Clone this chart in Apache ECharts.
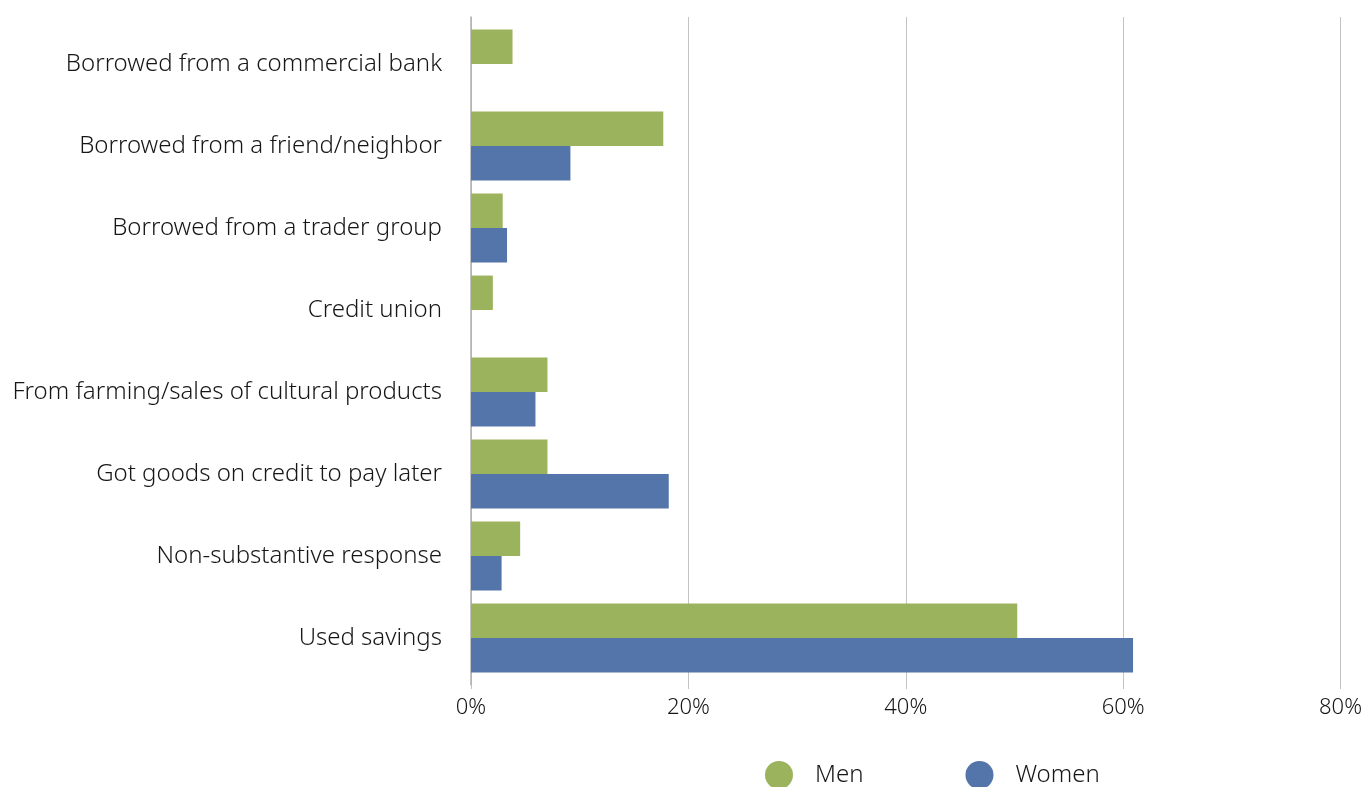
<!DOCTYPE html>
<html>
<head>
<meta charset="utf-8">
<script src="https://cdn.jsdelivr.net/npm/echarts@6/dist/echarts.min.js"></script>
<style>
  html, body { margin: 0; padding: 0; background: #ffffff; }
  #chart { width: 1365px; height: 787px; }
</style>
</head>
<body>
<div id="chart"></div>
<script>
// Sources of funds, share of respondents by gender (%)
const categories = [
  'Borrowed from a commercial bank',
  'Borrowed from a friend/neighbor',
  'Borrowed from a trader group',
  'Credit union',
  'From farming/sales of cultural products',
  'Got goods on credit to pay later',
  'Non-substantive response',
  'Used savings'
];
const menValues = [3.8, 17.6, 2.9, 2.0, 7.0, 7.0, 4.5, 50.0];
const womenValues = [null, 9.1, 3.3, null, 5.9, 18.1, 2.8, 60.6];
const xTicks = [0, 20, 40, 60, 80];

const FONT = '"Noto Sans", "Open Sans", sans-serif';
const TEXT = '#161616';
const GRID = '#c4c4c4';
const LEFT = 471, RIGHT = 20;

const xMin = xTicks[0], xMax = xTicks[xTicks.length - 1], xStep = xTicks[1] - xTicks[0];

const chart = echarts.init(document.getElementById('chart'), null, { renderer: 'canvas' });
chart.setOption({
  animation: false,
  backgroundColor: '#ffffff',
  textStyle: { fontFamily: FONT },
  grid: [
    // bars
    { left: LEFT, right: RIGHT, top: 23, bottom: 108, containLabel: false },
    // frame: gridlines, value labels and the baseline run a little past the bars
    { left: LEFT, right: RIGHT, top: 17, bottom: 102, containLabel: false }
  ],
  legend: {
    data: ['Men', 'Women'],
    left: 765,
    top: 761,
    padding: 0,
    icon: 'circle',
    itemWidth: 28,
    itemHeight: 28,
    itemGap: 102,
    textStyle: { fontFamily: FONT, fontSize: 24, fontWeight: 300, color: TEXT, padding: [0, 0, 0, 17] }
  },
  xAxis: [
    {
      gridIndex: 0,
      type: 'value',
      min: xMin, max: xMax, interval: xStep,
      axisLine: { show: false }, axisTick: { show: false },
      splitLine: { show: false }, axisLabel: { show: false }
    },
    {
      gridIndex: 1,
      type: 'value',
      min: xMin, max: xMax, interval: xStep,
      axisLine: { show: false },
      axisTick: { show: true, length: 4, lineStyle: { color: GRID } },
      splitLine: { show: true, lineStyle: { color: GRID, width: 1 } },
      axisLabel: {
        margin: 12,
        fontFamily: FONT,
        fontSize: 22,
        fontWeight: 300,
        color: TEXT,
        formatter: v => v + '%'
      }
    }
  ],
  yAxis: [
    {
      gridIndex: 0,
      type: 'category',
      data: categories,
      inverse: true,
      axisLine: { show: false },
      axisTick: { show: false },
      axisLabel: {
        margin: 29,
        fontFamily: FONT,
        fontSize: 24,
        fontWeight: 300,
        color: TEXT
      }
    },
    {
      gridIndex: 1,
      type: 'category',
      data: categories,
      inverse: true,
      axisLine: { show: true, lineStyle: { color: '#b0b0b0', width: 1.5 } },
      axisTick: { show: false },
      axisLabel: { show: false }
    }
  ],
  series: [
    {
      name: 'Men',
      type: 'bar',
      xAxisIndex: 0, yAxisIndex: 0,
      data: menValues,
      barGap: '0%',
      barCategoryGap: '16%',
      itemStyle: { color: '#9bb35c' }
    },
    {
      name: 'Women',
      type: 'bar',
      xAxisIndex: 0, yAxisIndex: 0,
      data: womenValues,
      barGap: '0%',
      barCategoryGap: '16%',
      itemStyle: { color: '#5475aa' }
    }
  ]
});
</script>
</body>
</html>
